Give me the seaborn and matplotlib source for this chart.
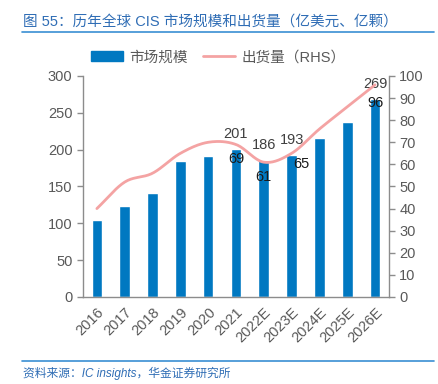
import numpy as np
import pandas as pd
import seaborn as sns
import matplotlib.pyplot as plt
from matplotlib.patches import Patch
from matplotlib.lines import Line2D

years = ["2016", "2017", "2018", "2019", "2020", "2021",
         "2022E", "2023E", "2024E", "2025E", "2026E"]
market_size = [105, 124, 141, 185, 191, 201, 186, 193, 216, 237, 269]
shipments = [40, 52, 56, 65, 70, 69, 61, 65, 76, 86, 96]
bar_labels = {"2021": 201, "2022E": 186, "2023E": 193, "2026E": 269}
line_labels = {"2021": 69, "2022E": 61, "2023E": 65, "2026E": 96}

BAR_COLOR = "#0078C1"
LINE_COLOR = "#F4A3A3"
TEXT_BLUE = "#2F6DB5"
RULE_BLUE = "#3A8FD3"
GREY = "#595959"
SPINE = "#8C8C8C"

sns.set_style("white")
plt.rcParams['font.family'] = ['Liberation Sans', 'Noto Sans CJK SC']

df = pd.DataFrame({"year": years, "size": market_size, "ship": shipments})

fig = plt.figure(figsize=(4.39, 3.84), dpi=100)
ax = fig.add_axes([0.189, 0.2266, 0.697, 0.5755])

sns.barplot(data=df, x="year", y="size", order=years, color=BAR_COLOR,
            saturation=1, width=0.38, ax=ax)
ax.set_xlim(-0.5, 10.5)
ax.set_ylim(0, 300)
ax.set_yticks(range(0, 301, 50))
ax.set_xlabel("")
ax.set_ylabel("")

# smooth the line for drawing (cubic hermite through the data points)
x = np.arange(len(shipments), dtype=float)
y = np.array(shipments, dtype=float)
m = np.gradient(y)
xs, ys = [], []
for i in range(len(x) - 1):
    t = np.linspace(0, 1, 20)
    h00 = 2 * t**3 - 3 * t**2 + 1
    h10 = t**3 - 2 * t**2 + t
    h01 = -2 * t**3 + 3 * t**2
    h11 = t**3 - t**2
    xs.extend(x[i] + t)
    ys.extend(h00 * y[i] + h10 * m[i] + h01 * y[i + 1] + h11 * m[i + 1])

ax2 = ax.twinx()
sns.lineplot(x=xs, y=ys, color=LINE_COLOR, lw=2, ax=ax2, sort=False)
ax2.set_ylim(0, 100)
ax2.set_yticks(range(0, 101, 10))
ax2.set_xlim(-0.5, 10.5)

for a in (ax, ax2):
    for s in a.spines.values():
        s.set_color(SPINE)
        s.set_linewidth(1)
    a.spines["top"].set_visible(False)
    a.tick_params(colors=GREY, labelsize=10.5, length=4, width=1, direction="out")
    a.tick_params(axis="y", color=SPINE)
ax.spines["right"].set_visible(False)
ax2.spines["left"].set_visible(False)
ax2.spines["bottom"].set_visible(False)

# x ticks between categories
ax.set_xticks(np.arange(len(years)))
ax.set_xticklabels(years, rotation=45, ha="right", rotation_mode="anchor")
ax.tick_params(axis="x", which="major", length=0, pad=6)
ax.set_xticks(np.arange(-0.5, len(years), 1.0), minor=True)
ax.tick_params(axis="x", which="minor", length=4, color=SPINE, width=1)

for i, yr in enumerate(years):
    if yr in bar_labels:
        ax.annotate(str(bar_labels[yr]), (i, market_size[i]), xytext=(0, 11),
                    textcoords="offset points", ha="center", va="center",
                    fontsize=10.5, color="#404040")
    if yr in line_labels:
        dx = 7 if yr == "2023E" else 0
        dy = -13 if yr == "2026E" else (-8 if yr == "2023E" else -10.5)
        ax2.annotate(str(line_labels[yr]), (i, shipments[i]), xytext=(dx, dy),
                     textcoords="offset points", ha="center", va="center",
                     fontsize=10.5, color="#1a1a1a")

handles = [Patch(facecolor=BAR_COLOR, edgecolor=BAR_COLOR),
           Line2D([0], [0], color=LINE_COLOR, lw=2)]
fig.legend(handles, ["市场规模", "出货量（RHS）"], loc="center",
           bbox_to_anchor=(0.497, 0.851), ncol=2, frameon=False,
           fontsize=10.5, handlelength=2.2, handleheight=0.6,
           columnspacing=1.0, handletextpad=0.45, labelcolor=GREY)

fig.text(0.052, 0.943, "图 55：历年全球 CIS 市场规模和出货量（亿美元、亿颗）",
         color=TEXT_BLUE, fontsize=10.5, va="center", ha="left")
fig.add_artist(Line2D([0.05, 0.988], [0.916, 0.916], color=RULE_BLUE, lw=1.2,
                      transform=fig.transFigure))
fig.add_artist(Line2D([0.05, 0.988], [0.060, 0.060], color=RULE_BLUE, lw=1.2,
                      transform=fig.transFigure))
fig.text(0.052, 0.028, "资料来源：IC insights，华金证券研究所", color=TEXT_BLUE,
         fontsize=8.5, style="italic", va="center", ha="left")

fig.savefig("out.png", dpi=100)
